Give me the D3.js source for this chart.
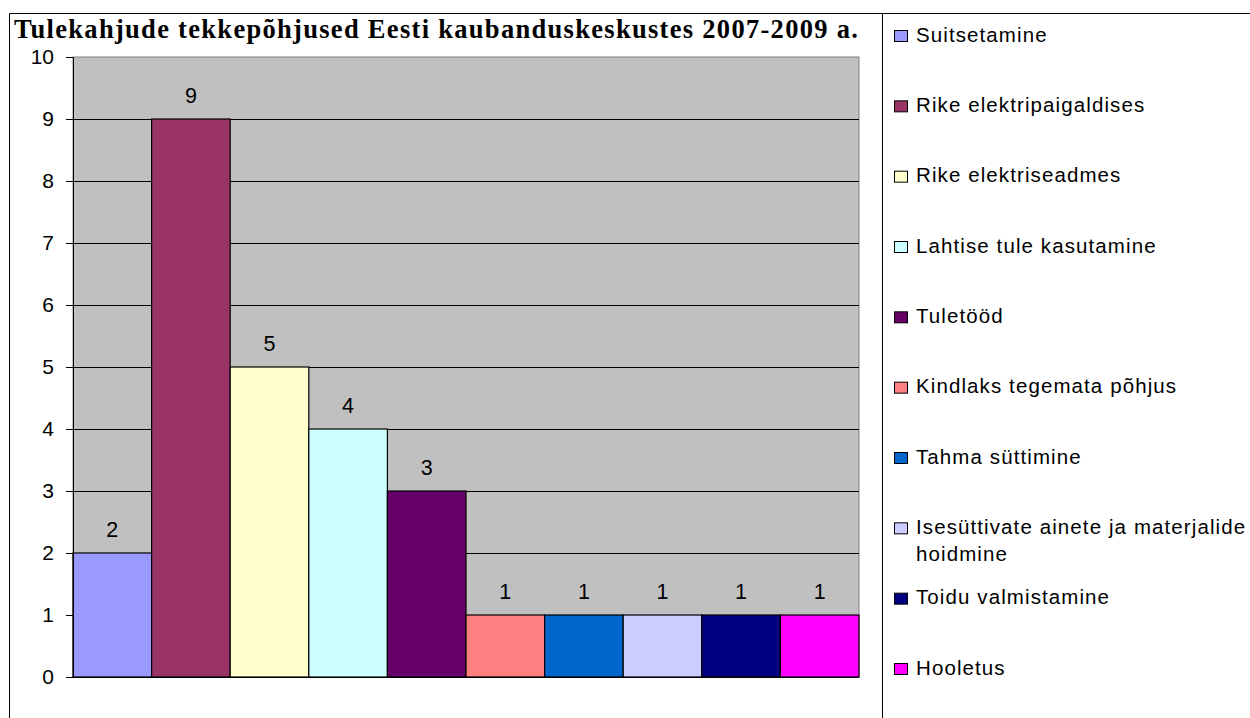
<!DOCTYPE html>
<html>
<head>
<meta charset="utf-8">
<script src="https://cdn.jsdelivr.net/npm/d3@7"></script>
<style>
  body { margin: 0; background: #fff; }
  svg { display: block; }
</style>
</head>
<body>
<div id="chart"></div>
<script>
// data
const categories = ["Suitsetamine", "Rike elektripaigaldises", "Rike elektriseadmes",
    "Lahtise tule kasutamine", "Tuletööd", "Kindlaks tegemata põhjus", "Tahma süttimine",
    "Isesüttivate ainete ja materjalide hoidmine", "Toidu valmistamine", "Hooletus"];
const values = [2, 9, 5, 4, 3, 1, 1, 1, 1, 1];
const colors = ["#9999FF", "#993366", "#FFFFCC", "#CCFFFF", "#660066",
    "#FF8080", "#0066CC", "#CCCCFF", "#000080", "#FF00FF"];
const yTicks = [0, 1, 2, 3, 4, 5, 6, 7, 8, 9, 10];
const title = "Tulekahjude tekkepõhjused Eesti kaubanduskeskustes 2007-2009 a.";

const W = 1250, H = 718;
const sans = "'Liberation Sans', Arial, sans-serif";
const svg = d3.select("#chart").append("svg")
    .attr("width", W).attr("height", H);

// outer frame + divider
svg.append("path")
    .attr("d", "M9.5,718 V13.5 H1250 M882.5,13.5 V718")
    .attr("fill", "none").attr("stroke", "#000").attr("stroke-width", 1);

svg.append("text")
    .attr("x", 14).attr("y", 38)
    .attr("font-family", "'Liberation Serif', 'Times New Roman', serif")
    .attr("font-weight", "bold")
    .attr("font-size", 26.5)
    .attr("letter-spacing", 1.3)
    .text(title);

const plot = { left: 73, right: 859, top: 57, bottom: 677 };

const x = d3.scaleBand().domain(categories).range([plot.left, plot.right]).padding(0);
const y = d3.scaleLinear().domain([0, 10]).range([plot.bottom, plot.top]);

svg.append("rect")
    .attr("x", plot.left).attr("y", plot.top)
    .attr("width", plot.right - plot.left).attr("height", plot.bottom - plot.top)
    .attr("fill", "#C0C0C0").attr("stroke", "#808080");

// gridlines
svg.append("g").selectAll("line")
    .data(yTicks.filter(d => d > 0 && d < 10))
    .join("line")
    .attr("x1", plot.left).attr("x2", plot.right)
    .attr("y1", d => Math.round(y(d)) + 0.5).attr("y2", d => Math.round(y(d)) + 0.5)
    .attr("stroke", "#000").attr("stroke-width", 1);

// bars
svg.append("g").selectAll("rect")
    .data(values)
    .join("rect")
    .attr("x", (d, i) => x(categories[i]))
    .attr("y", d => y(d))
    .attr("width", x.bandwidth())
    .attr("height", d => y(0) - y(d))
    .attr("fill", (d, i) => colors[i])
    .attr("stroke", "#000").attr("stroke-width", 1.2);

// value labels
svg.append("g").selectAll("text")
    .data(values)
    .join("text")
    .attr("x", (d, i) => x(categories[i]) + x.bandwidth() / 2)
    .attr("y", d => y(d) - 16)
    .attr("text-anchor", "middle")
    .attr("font-family", sans).attr("font-size", 21.5)
    .text(d => d);

// y axis
const yAxis = svg.append("g")
    .attr("transform", `translate(${plot.left},0)`)
    .call(d3.axisLeft(y).tickValues(yTicks).tickSize(7).tickPadding(12));
yAxis.select(".domain").attr("stroke", "#000");
yAxis.selectAll(".tick line").attr("stroke", "#000");
yAxis.selectAll(".tick text")
    .attr("font-family", sans).attr("font-size", 21)
    .attr("fill", "#000");

// x axis line
svg.append("line")
    .attr("x1", plot.left).attr("x2", plot.right)
    .attr("y1", plot.bottom + 0.5).attr("y2", plot.bottom + 0.5)
    .attr("stroke", "#000");

// legend
const ly = d3.scalePoint().domain(categories).range([37, 670]);
const legend = svg.append("g").selectAll("g")
    .data(categories)
    .join("g")
    .attr("transform", d => `translate(894,${ly(d)})`);

legend.append("rect")
    .attr("x", 0.5).attr("y", -6.5).attr("width", 13).attr("height", 11)
    .attr("fill", (d, i) => colors[i]).attr("stroke", "#000");

legend.append("text")
    .attr("x", 22).attr("y", 4.5)
    .attr("font-family", sans).attr("font-size", 20.5)
    .attr("letter-spacing", 1.1)
    .each(function (d) {
        const t = d3.select(this);
        // wrap long item the way the reference does
        if (d.length > 30) {
            const cut = d.lastIndexOf(" ");
            t.append("tspan").attr("x", 22).text(d.slice(0, cut));
            t.append("tspan").attr("x", 22).attr("dy", 27).text(d.slice(cut + 1));
        } else {
            t.text(d);
        }
    });
</script>
</body>
</html>
